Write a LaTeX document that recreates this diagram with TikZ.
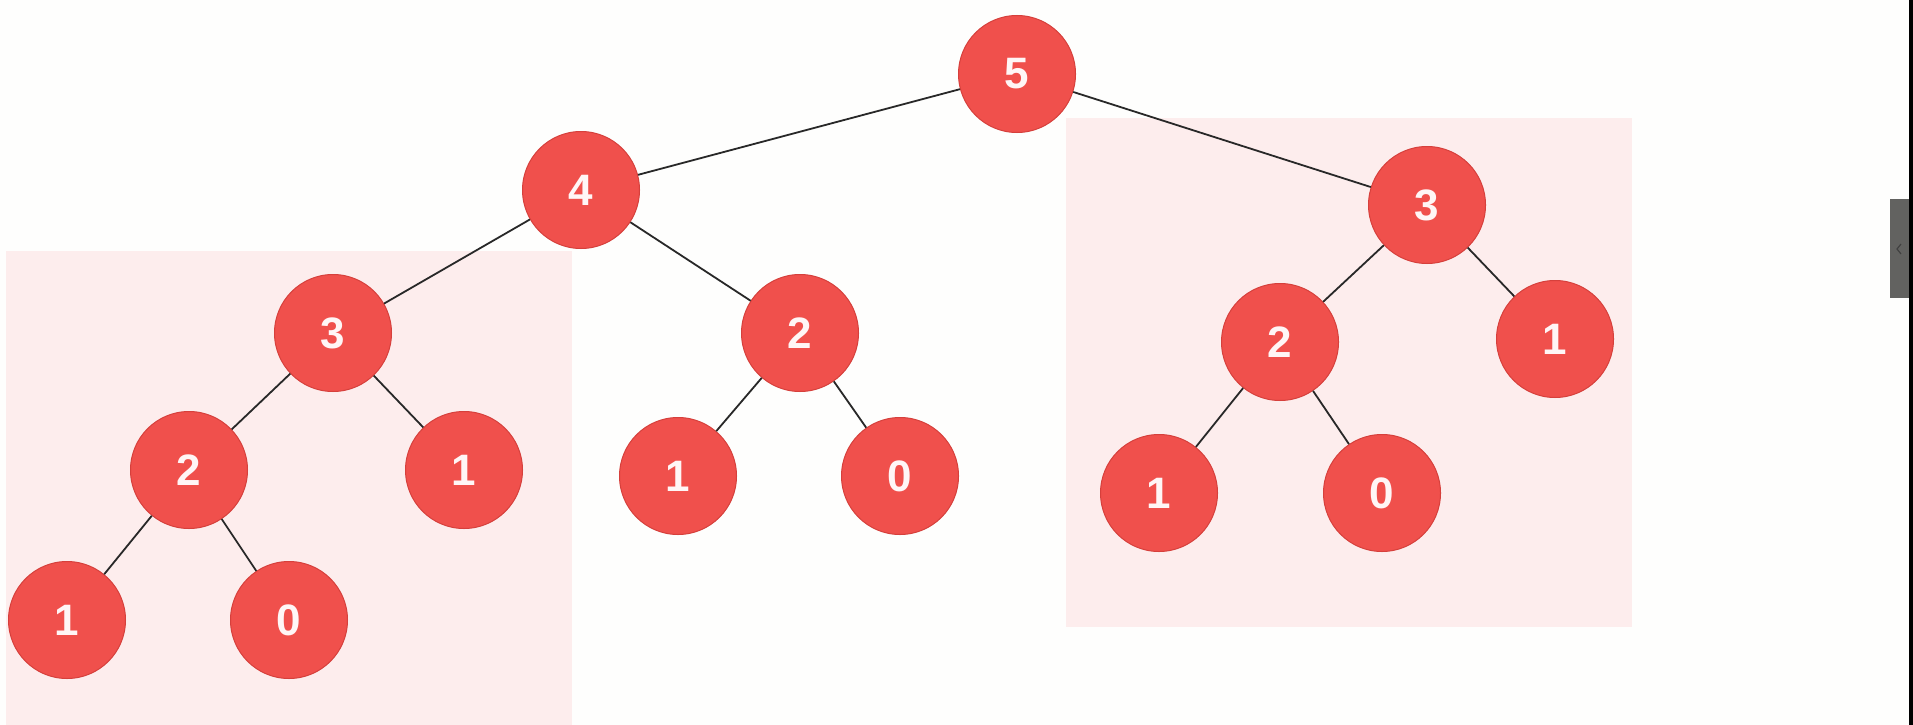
\documentclass[tikz,border=0pt]{standalone}
\usepackage{fontspec}
\setmainfont{Liberation Sans}
\newfontfamily\digitfont{Liberation Sans Bold}
\definecolor{nodered}{RGB}{240,80,76}
\definecolor{noderim}{RGB}{214,64,60}
\definecolor{panelpink}{RGB}{253,237,237}
\definecolor{edgegray}{RGB}{40,40,40}
\definecolor{tabgray}{RGB}{98,98,96}
\definecolor{pagebg}{RGB}{254,254,253}
\definecolor{digitwhite}{RGB}{255,246,246}
\tikzset{
  tnode/.style={circle, fill=nodered, draw=noderim, line width=1pt,
    minimum size=117pt, inner sep=0pt, text=digitwhite,
    font=\digitfont\fontsize{44}{48}\selectfont},
  tedge/.style={draw=edgegray, line width=1.8pt},
  panel/.style={fill=panelpink, draw=none}
}
\begin{document}
\begin{tikzpicture}[x=1pt,y=-1pt]
\fill[pagebg] (0,0) rectangle (1913,725);
\useasboundingbox (0,0) rectangle (1913,725);
% panels
\fill[panel] (6,251) rectangle (572,725);
\fill[panel] (1066,118) rectangle (1632,627);
% right-edge tab and strip
\fill[tabgray] (1890,199) rectangle (1909,298);
\draw[black!75, line width=1.2pt] (1901,244) -- (1897,249) -- (1901,254);
\fill[black] (1909,0) rectangle (1913,725);
% nodes
\node[tnode] (n5) at (1017,74) {5};
\node[tnode] (n4) at (581,190) {4};
\node[tnode] (a3) at (333,333) {3};
\node[tnode] (a2) at (189,470) {2};
\node[tnode] (a1) at (464,470) {1};
\node[tnode] (a11) at (67,620) {1};
\node[tnode] (a10) at (289,620) {0};
\node[tnode] (m2) at (800,333) {2};
\node[tnode] (m1) at (678,476) {1};
\node[tnode] (m0) at (900,476) {0};
\node[tnode] (b3) at (1427,205) {3};
\node[tnode] (b2) at (1280,342) {2};
\node[tnode] (b1) at (1555,339) {1};
\node[tnode] (b11) at (1159,493) {1};
\node[tnode] (b10) at (1382,493) {0};
% edges
\begin{scope}[tedge]
\draw (n5) -- (n4);
\draw (n5) -- (b3);
\draw (n4) -- (a3);
\draw (n4) -- (m2);
\draw (a3) -- (a2);
\draw (a3) -- (a1);
\draw (a2) -- (a11);
\draw (a2) -- (a10);
\draw (m2) -- (m1);
\draw (m2) -- (m0);
\draw (b3) -- (b2);
\draw (b3) -- (b1);
\draw (b2) -- (b11);
\draw (b2) -- (b10);
\end{scope}
\end{tikzpicture}
\end{document}
